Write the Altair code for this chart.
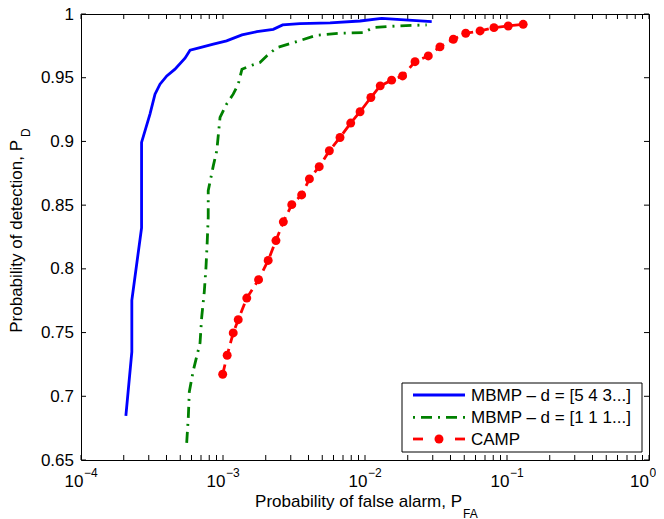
import altair as alt
import pandas as pd

# ---------------- data ----------------
names = ["MBMP \u2013 d = [5 4 3...]", "MBMP \u2013 d = [1 1 1...]", "CAMP"]

blue_fa = [2.07e-4, 2.28e-4, 2.28e-4, 2.67e-4, 2.67e-4, 3.06e-4, 3.32e-4, 3.60e-4,
           4.02e-4, 4.59e-4, 5.40e-4, 5.86e-4, 6.89e-4, 8.55e-4, 1.06e-3, 1.36e-3,
           1.73e-3, 2.26e-3, 2.63e-3, 3.48e-3, 5.68e-3, 9.23e-3, 1.31e-2, 2.95e-2]
blue_pd = [0.6847, 0.7348, 0.7753, 0.8322, 0.8992, 0.9215, 0.9371, 0.9449,
           0.9514, 0.9567, 0.9653, 0.9716, 0.9736, 0.9763, 0.9789, 0.9836,
           0.9861, 0.9880, 0.9914, 0.9924, 0.9930, 0.9945, 0.9966, 0.9940]

green_fa = [5.55e-4, 5.70e-4, 5.79e-4, 6.18e-4, 6.89e-4, 7.08e-4, 7.38e-4, 7.59e-4,
            7.74e-4, 7.87e-4, 7.87e-4, 8.09e-4, 8.55e-4, 9.04e-4, 9.53e-4, 1.06e-3,
            1.18e-3, 1.28e-3, 1.36e-3, 1.55e-3, 1.82e-3, 2.03e-3, 2.39e-3, 3.13e-3,
            4.57e-3, 6.67e-3, 9.72e-3, 1.14e-2, 1.67e-2, 2.72e-2]
green_pd = [0.6635, 0.6839, 0.7035, 0.7204, 0.7418, 0.7622, 0.7818, 0.8013,
            0.8209, 0.8405, 0.8614, 0.8679, 0.8810, 0.8927, 0.9188, 0.9293,
            0.9371, 0.9449, 0.9567, 0.9593, 0.9619, 0.9671, 0.9736, 0.9775,
            0.9833, 0.9849, 0.9854, 0.9893, 0.9906, 0.9914]

camp_fa = [9.95e-4, 1.07e-3, 1.18e-3, 1.28e-3, 1.47e-3, 1.78e-3, 2.08e-3, 2.36e-3,
           2.66e-3, 3.05e-3, 3.58e-3, 4.06e-3, 4.76e-3, 5.61e-3, 6.67e-3, 7.93e-3,
           9.23e-3, 1.10e-2, 1.28e-2, 1.54e-2, 1.84e-2, 2.25e-2, 2.79e-2, 3.37e-2,
           4.19e-2, 5.12e-2, 6.46e-2, 8.09e-2, 0.102, 0.130]
camp_pd = [0.7173, 0.7322, 0.7497, 0.7601, 0.7771, 0.7915, 0.8066, 0.8222,
           0.8369, 0.8504, 0.8580, 0.8706, 0.8802, 0.8927, 0.9031, 0.9144,
           0.9233, 0.9345, 0.9436, 0.9481, 0.9514, 0.9626, 0.9671, 0.9742,
           0.9802, 0.9849, 0.9867, 0.9893, 0.9906, 0.9919]

x_major = [1e-4, 1e-3, 1e-2, 1e-1, 1.0]
x_exps = ["\u22124", "\u22123", "\u22122", "\u22121", "0"]
x_minor = [k * 10.0 ** e for e in (-4, -3, -2, -1) for k in range(2, 10)]
y_ticks = [0.65, 0.7, 0.75, 0.8, 0.85, 0.9, 0.95, 1.0]
y_labels = ["0.65", "0.7", "0.75", "0.8", "0.85", "0.9", "0.95", "1"]

xlabel = "Probability of false alarm, P"
xlabel_sub = "FA"
ylabel = "Probability of detection, P"
ylabel_sub = "D"

# ---------------- layout ----------------
W, H = 568, 446
FONT = "Liberation Sans"
TL = 5  # tick length

xs = alt.Scale(type="log", domain=[1e-4, 1.0], nice=False)
ys = alt.Scale(domain=[0.65, 1.0], nice=False, zero=False)


def series_df(fa, pd_):
    return pd.DataFrame({"fa": fa, "pd": pd_, "i": list(range(len(fa)))})


X = alt.X("fa:Q", scale=xs, axis=None)
Y = alt.Y("pd:Q", scale=ys, axis=None)

blue = alt.Chart(series_df(blue_fa, blue_pd)).mark_line(
    color="#0000ff", strokeWidth=2.8).encode(x=X, y=Y, order="i:Q")
green = alt.Chart(series_df(green_fa, green_pd)).mark_line(
    color="#008000", strokeWidth=2.8, strokeDash=[11, 6, 2, 6]).encode(x=X, y=Y, order="i:Q")
camp_df = series_df(camp_fa, camp_pd)
red_line = alt.Chart(camp_df).mark_line(
    color="#ff0000", strokeWidth=2.8, strokeDash=[10, 6]).encode(x=X, y=Y, order="i:Q")
red_pts = alt.Chart(camp_df).mark_point(
    filled=True, color="#ff0000", size=80, opacity=1).encode(x=X, y=Y)

# ---------------- ticks ----------------
xt_df = pd.DataFrame({"v": x_major + x_minor})
XT = alt.X("v:Q", scale=xs, axis=None)
ticks_bottom = alt.Chart(xt_df).mark_rule(color="black", strokeWidth=1).encode(
    x=XT, y=alt.value(H), y2=alt.value(H - TL))
ticks_top = alt.Chart(xt_df).mark_rule(color="black", strokeWidth=1).encode(
    x=XT, y=alt.value(0), y2=alt.value(TL))

yt_df = pd.DataFrame({"v": y_ticks, "lab": y_labels})
YT = alt.Y("v:Q", scale=ys, axis=None)
ticks_left = alt.Chart(yt_df).mark_rule(color="black", strokeWidth=1).encode(
    y=YT, x=alt.value(0), x2=alt.value(TL))
ticks_right = alt.Chart(yt_df).mark_rule(color="black", strokeWidth=1).encode(
    y=YT, x=alt.value(W - TL), x2=alt.value(W))

ylabels = alt.Chart(yt_df).mark_text(
    align="right", baseline="middle", font=FONT, fontSize=17, color="black", dy=0.5).encode(
    y=YT, x=alt.value(-7), text="lab:N")

xl_df = pd.DataFrame({"v": x_major, "e": x_exps})
xl10_a = alt.Chart(xl_df).transform_filter("datum.e != '0'").mark_text(
    align="right", baseline="alphabetic", font=FONT, fontSize=17, dx=2.5, color="black").encode(
    x=XT, y=alt.value(473), text=alt.value("10"))
xle_a = alt.Chart(xl_df).transform_filter("datum.e != '0'").mark_text(
    align="left", baseline="alphabetic", font=FONT, fontSize=12, dx=3, color="black").encode(
    x=XT, y=alt.value(463), text="e:N")
xl10_b = alt.Chart(xl_df).transform_filter("datum.e == '0'").mark_text(
    align="right", baseline="alphabetic", font=FONT, fontSize=17, dx=0, color="black").encode(
    x=XT, y=alt.value(473), text=alt.value("10"))
xle_b = alt.Chart(xl_df).transform_filter("datum.e == '0'").mark_text(
    align="left", baseline="alphabetic", font=FONT, fontSize=12, dx=0.5, color="black").encode(
    x=XT, y=alt.value(463), text="e:N")

one = pd.DataFrame({"k": [0]})
xtitle = alt.Chart(one).mark_text(
    align="right", baseline="alphabetic", font=FONT, fontSize=17, color="black").encode(
    x=alt.value(381), y=alt.value(492.7), text=alt.value(xlabel))
xtitle_sub = alt.Chart(one).mark_text(
    align="left", baseline="alphabetic", font=FONT, fontSize=12, color="black").encode(
    x=alt.value(382), y=alt.value(503.5), text=alt.value(xlabel_sub))
ytitle = alt.Chart(one).mark_text(
    align="right", baseline="alphabetic", font=FONT, fontSize=17, angle=270, color="black").encode(
    x=alt.value(-59.5), y=alt.value(126), text=alt.value(ylabel))
ytitle_sub = alt.Chart(one).mark_text(
    align="left", baseline="alphabetic", font=FONT, fontSize=12, angle=270, color="black").encode(
    x=alt.value(-51), y=alt.value(123), text=alt.value(ylabel_sub))

# ---------------- legend ----------------
LX0, LX1, LY0, LY1 = 321, 561, 369, 438
rows = [381, 403.3, 425]
sx0, sx1, tx = 332, 384, 390

leg_box = alt.Chart(one).mark_rect(fill="white", stroke="black", strokeWidth=1).encode(
    x=alt.value(LX0), x2=alt.value(LX1), y=alt.value(LY0), y2=alt.value(LY1))
leg_blue = alt.Chart(one).mark_rule(color="#0000ff", strokeWidth=2.8).encode(
    x=alt.value(sx0), x2=alt.value(sx1), y=alt.value(rows[0]))
leg_green = alt.Chart(one).mark_rule(color="#008000", strokeWidth=2.8, strokeDash=[2, 6, 11, 6]).encode(
    x=alt.value(sx0), x2=alt.value(sx1), y=alt.value(rows[1]))
leg_red1 = alt.Chart(one).mark_rule(color="#ff0000", strokeWidth=2.8).encode(
    x=alt.value(sx0), x2=alt.value(sx0 + 10), y=alt.value(rows[2]))
leg_red2 = alt.Chart(one).mark_rule(color="#ff0000", strokeWidth=2.8).encode(
    x=alt.value(sx1 - 10), x2=alt.value(sx1), y=alt.value(rows[2]))
leg_redpt = alt.Chart(one).mark_point(filled=True, color="#ff0000", size=80, opacity=1).encode(
    x=alt.value((sx0 + sx1) / 2), y=alt.value(rows[2]))
leg_texts = [
    alt.Chart(one).mark_text(align="left", baseline="middle", font=FONT, fontSize=17,
                             color="black", dy=1).encode(
        x=alt.value(tx), y=alt.value(rows[k]), text=alt.value(names[k]))
    for k in range(3)
]

chart = alt.layer(
    ticks_bottom, ticks_top, ticks_left, ticks_right,
    blue, green, red_line, red_pts,
    ylabels, xl10_a, xle_a, xl10_b, xle_b,
    xtitle, xtitle_sub, ytitle, ytitle_sub,
    leg_box, leg_blue, leg_green, leg_red1, leg_red2, leg_redpt, *leg_texts,
).properties(
    width=W, height=H,
    padding={"left": 73, "top": 6, "right": 7, "bottom": 59},
    autosize=alt.AutoSizeParams(type="none"),
).configure_view(stroke="black", strokeWidth=1)

chart.save("out.html", embed_options={"renderer": "svg", "actions": False})
